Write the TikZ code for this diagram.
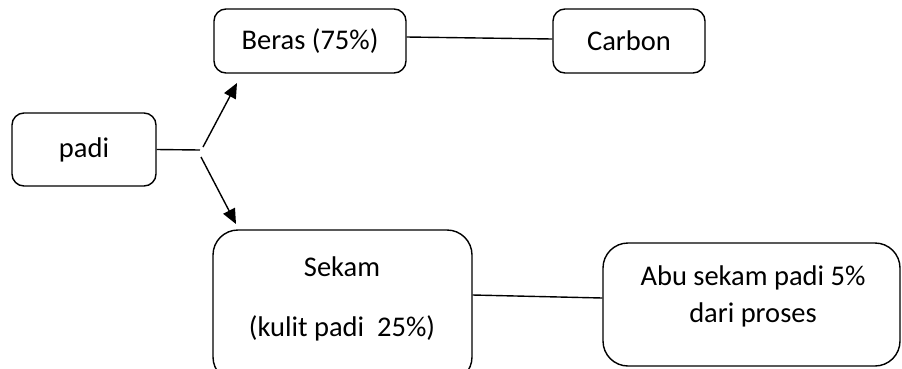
\documentclass[tikz,border=0pt]{standalone}
\usepackage{fontspec}
\setmainfont{Carlito}
\usetikzlibrary{arrows.meta,calc}
\begin{document}
\begin{tikzpicture}[x=1pt,y=-1pt,
  box/.style={draw, line width=1.4pt, rounded corners=12pt, inner sep=0pt, font=\fontsize{28.5}{34}\selectfont},
  bigbox/.style={box, rounded corners=25pt},
  txt/.style={inner sep=0pt, font=\fontsize{28.5}{37}\selectfont, align=center},
  conn/.style={line width=1.4pt},
  arr/.style={conn, -{Triangle[length=15pt,width=13pt]}}]
\useasboundingbox (0,0) rectangle (902,368);
\clip (0,0) rectangle (902,368);
\node[box, minimum width=144pt, minimum height=73pt] (padi) at (84,149.5) {padi};
\node[box, minimum width=192pt, minimum height=64pt] (beras) at (310,41) {Beras (75\%)};
\node[box, minimum width=152pt, minimum height=64pt] (carbon) at (629,41) {Carbon};
\node[bigbox, minimum width=259pt, minimum height=152pt] (sekam) at (342.5,306) {};
\node[txt] (sekamA) at (342,267) {Sekam};
\node[txt] (sekamB) at (342,328) {(kulit padi \ 25\%)};
\node[bigbox, minimum width=297pt, minimum height=123pt] (abu) at (751.5,304.5) {};
\node[txt] (abuT) at (753,296) {Abu sekam padi 5\%\\dari proses};
\coordinate (j) at (200,150);
\coordinate (ju) at (203,147);
\coordinate (jd) at (201,157);
\coordinate (tu) at (237,83);
\coordinate (td) at (236,224);
\draw[conn] (padi.east) -- (j);
\draw[arr] (ju) -- (tu);
\draw[arr] (jd) -- (td);
\draw[conn] ($(beras.east)+(0,-4)$) -- ($(carbon.west)+(0,-2)$);
\draw[conn] ($(sekam.east)+(0,-11)$) -- ($(abu.west)+(0,-6.5)$);
\end{tikzpicture}
\end{document}
